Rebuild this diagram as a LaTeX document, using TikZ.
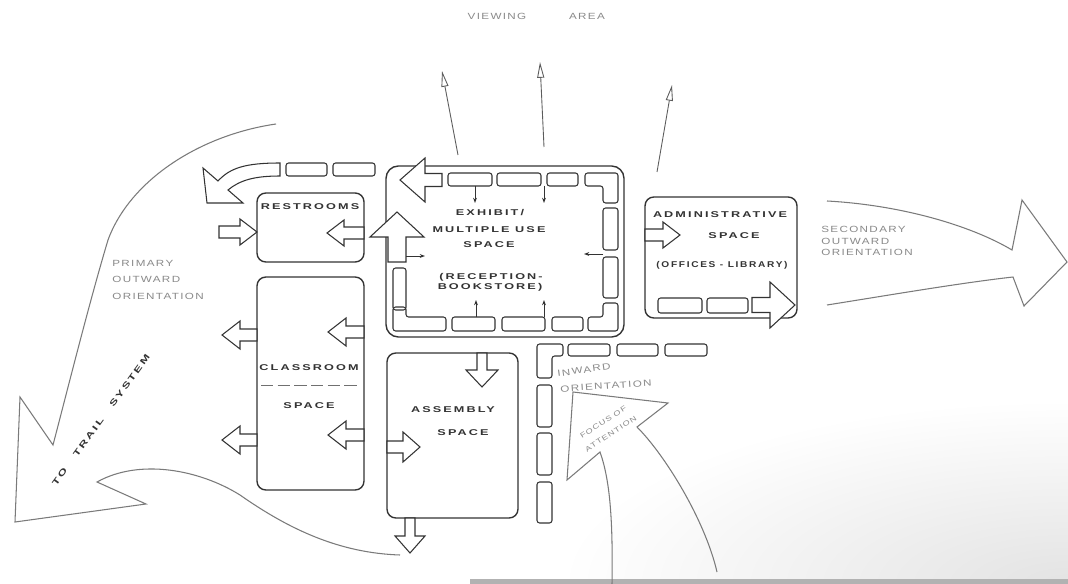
\documentclass[tikz,border=0pt]{standalone}
\usepackage{fontspec}
\usepackage{xcolor}
\usepackage{tikz}
\usetikzlibrary{arrows.meta,calc}
\setmainfont{Liberation Sans}
\newfontfamily\roomfont{Liberation Sans}[FakeStretch=1.5,LetterSpace=25]
\newfontfamily\notefont{Liberation Sans}[FakeStretch=1.3,LetterSpace=15]
\definecolor{ink}{HTML}{333333}
\definecolor{pencil}{HTML}{7A7A7A}
\definecolor{notegray}{HTML}{8A8A8A}
\tikzset{
    room/.style={draw=ink, line width=0.8pt, rounded corners=5pt, inner sep=0pt, outer sep=0pt},
    roomlabel/.style={font=\roomfont\bfseries\fontsize{4.8}{6}\selectfont, text=ink, inner sep=0pt},
    notelabel/.style={font=\notefont\fontsize{5.1}{6}\selectfont, text=notegray, inner sep=0pt},
    track/.style={draw=ink, line width=0.6pt, rounded corners=1.5pt},
    hollow/.style={draw=ink, line width=0.6pt, fill=white},
    sweep/.style={draw=pencil, line width=0.6pt},
    flow/.style={draw=ink, line width=0.5pt, -{Stealth[length=3pt,width=2.2pt]}},
    sight/.style={draw=ink!80, line width=0.5pt, -{Triangle[open,length=9pt,width=4pt]}}
}
% tail, angle, length, shaft half width, head half width, head length
\newcommand{\blockarrow}[6]{%
  \begin{scope}[shift={#1}, rotate=#2]
    \draw[hollow] (0,-#4) -- ({#3-#6},-#4) -- ({#3-#6},-#5) -- (#3,0) -- ({#3-#6},#5) -- ({#3-#6},#4) -- (0,#4) -- cycle;
  \end{scope}}

\begin{document}
\begin{tikzpicture}[x=0.02cm, y=-0.02cm]

\useasboundingbox (0,0) rectangle (1068,584);
\fill[white] (0,0) rectangle (1068,584);
% scan shading
\shade[inner color=black!11, outer color=white] (560,400) rectangle (1576,768);
\fill[black!30] (470,579) rectangle (1068,584);

% rooms
\node[room, minimum width=2.14cm, minimum height=1.38cm] (rest) at (310.5,227.5) {};
\node[room, rounded corners=7pt, minimum width=4.76cm, minimum height=3.42cm] (exhibit) at (505,251.5) {};
\node[room, minimum width=2.14cm, minimum height=4.26cm] (class) at (310.5,383.5) {};
\node[room, minimum width=2.62cm, minimum height=3.30cm] (assembly) at (452.5,435.5) {};
\node[room, minimum width=3.04cm, minimum height=2.42cm] (admin) at (721,257.5) {};

% circulation ring inside the exhibit space
\draw[track] (448,173) rectangle (492,186);
\draw[track] (497,173) rectangle (541,186);
\draw[track] (547,173) rectangle (578,186);
\draw[track] (585,173) -- (618,173) -- (618,203) -- (603,203) -- (603,186) -- (585,186) -- cycle;
\draw[track] (603,208) rectangle (618,250);
\draw[track] (603,257) rectangle (618,298);
\draw[track] (603,303) -- (618,303) -- (618,331) -- (588,331) -- (588,317) -- (603,317) -- cycle;
\draw[track] (552,317) rectangle (583,331);
\draw[track] (502,317) rectangle (545,331);
\draw[track] (452,317) rectangle (495,331);
\draw[track] (393,307) -- (406,307) -- (406,317) -- (446,317) -- (446,331) -- (393,331) -- cycle;
\draw[track] (393,268) rectangle (406,310);

% walkway above the restrooms
\draw[track] (286,163) rectangle (327,176);
\draw[track] (333,163) rectangle (375,176);

% walkway outside, inward orientation
\draw[track] (537,344) -- (563,344) -- (563,356) -- (552,356) -- (552,378) -- (537,378) -- cycle;
\draw[track] (568,344) rectangle (610,356);
\draw[track] (617,344) rectangle (658,356);
\draw[track] (665,344) rectangle (707,356);
\draw[track] (537,385) rectangle (552,427);
\draw[track] (537,433) rectangle (552,475);
\draw[track] (537,482) rectangle (552,523);

% admin walkway
\draw[track] (658,298) rectangle (702,313);
\draw[track] (707,298) rectangle (748,313);

% block arrows
\blockarrow{(219,232)}{0}{38}{6}{13}{17}
\blockarrow{(364,233)}{180}{37}{6}{13}{17}
\blockarrow{(257,335)}{180}{35}{6}{14}{18}
\blockarrow{(257,440)}{180}{35}{6}{14}{18}
\blockarrow{(364,332)}{180}{36}{6}{14}{18}
\blockarrow{(364,435)}{180}{36}{6}{14}{18}
\blockarrow{(482,353)}{-90}{34}{5}{16}{17}
\blockarrow{(387,447)}{0}{33}{6}{15}{17}
\blockarrow{(410,518)}{-90}{35}{5}{15}{17}
\blockarrow{(645,235)}{0}{35}{6}{13}{17}
\blockarrow{(752,305)}{0}{43}{7.5}{23}{25}
\blockarrow{(442,180)}{180}{42}{6.5}{22}{25}
\blockarrow{(397,262)}{90}{50}{9}{27}{25}

% curved arrow over the restrooms
\draw[hollow] (280,163) .. controls (245,163) and (230,168) .. (218,181) -- (203,168) -- (207,203) -- (243,203) -- (228,190) .. controls (240,180) and (255,176) .. (280,176) -- cycle;

% small flow arrows in the exhibit space
\coordinate (f1) at (475,186); \coordinate (f1e) at (475,203);
\coordinate (f2) at (544,186); \coordinate (f2e) at (544,203);
\coordinate (f3) at (406,256); \coordinate (f3e) at (425,256);
\coordinate (f4) at (603,254); \coordinate (f4e) at (584,254);
\coordinate (f5) at (476,317); \coordinate (f5e) at (476,300);
\coordinate (f6) at (544,317); \coordinate (f6e) at (544,300);
\foreach \a/\b in {f1/f1e,f2/f2e,f3/f3e,f4/f4e,f5/f5e,f6/f6e}
  \draw[flow] (\a) -- (\b);

% viewing arrows
\coordinate (v1) at (458,155); \coordinate (v1e) at (442,71);
\coordinate (v2) at (544,147); \coordinate (v2e) at (540,62);
\coordinate (v3) at (657,172); \coordinate (v3e) at (672,85);
\draw[sight] (v1) -- (v1e);
\draw[sight] (v2) -- (v2e);
\draw[sight] (v3) -- (v3e);

% big orientation arrows
\draw[sweep] (276,124) .. controls (200,135) and (130,180) .. (108,240) .. controls (90,300) and (70,380) .. (53,445) -- (20,397) -- (15,522) -- (146,504) -- (97,482) .. controls (140,458) and (200,470) .. (240,495) .. controls (290,530) and (340,553) .. (400,555);
\draw[sweep] (827,201) .. controls (900,205) and (970,225) .. (1012,250) -- (1022,200) -- (1067,262) -- (1024,306) -- (1013,277) .. controls (960,283) and (890,295) .. (827,305);
\draw[sweep] (612,584) .. controls (613,520) and (610,480) .. (600,452) -- (567,480) -- (573,392) -- (668,403) -- (637,427) .. controls (665,455) and (705,520) .. (717,572);

% classroom divider
\draw[ink!70, line width=0.5pt, dash pattern=on 7pt off 2.5pt] (261,385) -- (358,385);

% labels
\node[notelabel] (viewing) at (497,16) {VIEWING};
\node[notelabel] (area) at (587,16) {AREA};
\node[roomlabel] (restlbl) at (310,207) {RESTROOMS};
\node[roomlabel] (exh1) at (490,213) {EXHIBIT/};
\node[roomlabel] (exh2) at (489,230) {MULTIPLE USE};
\node[roomlabel] (exh3) at (489,245) {SPACE};
\node[roomlabel] (exh4) at (491,277) {(RECEPTION-};
\node[roomlabel] (exh5) at (490,287) {BOOKSTORE)};
\node[roomlabel] (adm1) at (720,215) {ADMINISTRATIVE};
\node[roomlabel] (adm2) at (734,236) {SPACE};
\node[roomlabel] (adm3) at (722,265) {\scalebox{0.8}[1]{(OFFICES - LIBRARY)}};
\node[roomlabel] (cls1) at (309,368) {CLASSROOM};
\node[roomlabel] (cls2) at (309,406) {SPACE};
\node[roomlabel] (asm1) at (453,410) {ASSEMBLY};
\node[roomlabel] (asm2) at (463,433) {SPACE};
\node[notelabel, anchor=west] (prim1) at (112,263) {PRIMARY};
\node[notelabel, anchor=west] (prim2) at (112,279) {OUTWARD};
\node[notelabel, anchor=west] (prim3) at (112,296) {ORIENTATION};
\node[notelabel, anchor=west] (sec1) at (821,229) {SECONDARY};
\node[notelabel, anchor=west] (sec2) at (821,241) {OUTWARD};
\node[notelabel, anchor=west] (sec3) at (821,252) {ORIENTATION};
\node[roomlabel, rotate=54] (trail) at (101,420) {TO\hspace{6pt} TRAIL\hspace{6pt} SYSTEM};
\node[notelabel, rotate=8] (inw1) at (584,370) {INWARD};
\node[notelabel, rotate=4] (inw2) at (606,386) {ORIENTATION};
\node[notelabel, rotate=33, align=center, font=\notefont\fontsize{4}{6}\selectfont] (focus) at (607,428) {FOCUS OF\\[2pt]ATTENTION};

\end{tikzpicture}
\end{document}
